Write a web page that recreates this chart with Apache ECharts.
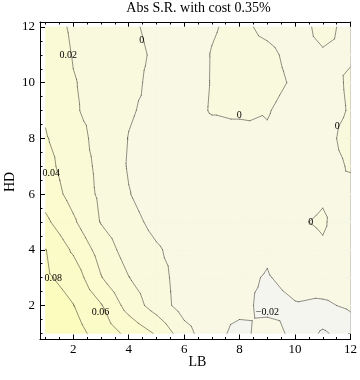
<!DOCTYPE html>
<html><head><meta charset="utf-8">
<script src="https://cdn.jsdelivr.net/npm/echarts@6/dist/echarts.min.js"></script>
<style>html,body{margin:0;padding:0;background:#fff}#c{width:360px;height:380px}</style>
</head><body><div id="c"></div>
<script>
// grid coordinates
const lbValues = [1,2,3,4,5,6,7,8,9,10,11,12];
const hdValues = [1,2,3,4,5,6,7,8,9,10,11,12];
// Abs S.R. values, one array per HD row (LB 1..12)
const srHD1  = [0.098, 0.088, 0.072, 0.055, 0.038, 0.008, -0.014, -0.025, -0.013, -0.024, -0.043, -0.030];
const srHD2  = [0.092, 0.0805, 0.0615, 0.032, 0.011, -0.009, -0.015, -0.015, -0.025, -0.021, -0.023, -0.017];
const srHD3  = [0.083, 0.072, 0.041, 0.0205, 0.008, -0.009, -0.014, -0.017, -0.021, -0.015, -0.010, -0.010];
const srHD4  = [0.0805, 0.057, 0.032, 0.011, 0.002, -0.007, -0.012, -0.013, -0.018, -0.008, -0.0022, -0.008];
const srHD5  = [0.064, 0.043, 0.019, 0.006, -0.005, -0.011, -0.012, -0.012, -0.011, -0.002, 0.002, -0.011];
const srHD6  = [0.052, 0.033, 0.0165, 0.0008, -0.010, -0.012, -0.011, -0.011, -0.010, -0.007, -0.002, -0.005];
const srHD7  = [0.046, 0.030, 0.0155, -0.0015, -0.008, -0.010, -0.009, -0.010, -0.008, -0.007, -0.006, 0.0015];
const srHD8  = [0.0412, 0.0305, 0.0114, -0.0005, -0.006, -0.008, -0.0063, -0.009, -0.0016, -0.006, -0.006, 0.006];
const srHD9  = [0.038, 0.022, 0.0135, 0.0015, -0.004, -0.007, 0.0012, 0.004, 0.0008, -0.005, -0.005, 0.001];
const srHD10 = [0.037, 0.021, 0.014, 0.006, -0.006, -0.007, 0.0006, 0.004, 0.004, -0.0017, -0.005, 0.0017];
const srHD11 = [0.034, 0.019, 0.013, 0.006, -0.003, -0.006, 0.0005, 0.004, 0.003, -0.004, -0.0015, -0.0013];
const srHD12 = [0.030, 0.017, 0.011, 0.0035, -0.005, -0.006, -0.001, 0.003, -0.003, -0.006, 0.004, -0.004];
const contourLevels = [-0.04, -0.02, 0, 0.02, 0.04, 0.06, 0.08];
const bandColors = ['#f1f1ec', '#f5f5ef', '#f8f8e5', '#f9f9de', '#fafad6', '#fbfbcf', '#fbfbc7', '#fcfcbf'];
// contour labels
const contourLabelLB   = [1.82, 4.47, 1.21, 1.28, 2.98, 9.0, 7.99, 11.52, 10.57];
const contourLabelHD   = [10.97, 11.53, 6.75, 2.98, 1.74, 1.75, 8.81, 8.42, 4.99];
const contourLabelText = ['0.02', '0', '0.04', '0.08', '0.06', '\u22120.02', '0', '0', '0'];
// ticks
const xMajorTicks = [2,4,6,8,10,12];
const xMinorTicks = [1,1.5,2.5,3,3.5,4.5,5,5.5,6.5,7,7.5,8.5,9,9.5,10.5,11,11.5];
const yMajorTicks = [2,4,6,8,10,12];
const yMinorTicks = [1,1.5,2.5,3,3.5,4.5,5,5.5,6.5,7,7.5,8.5,9,9.5,10.5,11,11.5];

const Z = [srHD1,srHD2,srHD3,srHD4,srHD5,srHD6,srHD7,srHD8,srHD9,srHD10,srHD11,srHD12];
const serif = '"Liberation Serif","DejaVu Serif",serif';

const cells = [];
for (let j = 0; j < hdValues.length - 1; j++)
  for (let i = 0; i < lbValues.length - 1; i++)
    cells.push([lbValues[i], hdValues[j], i, j]);

function cellTris(i, j) {
  const x0 = lbValues[i], x1 = lbValues[i+1], y0 = hdValues[j], y1 = hdValues[j+1];
  const z00 = Z[j][i], z10 = Z[j][i+1], z01 = Z[j+1][i], z11 = Z[j+1][i+1];
  const c = [(x0+x1)/2, (y0+y1)/2, (z00+z10+z01+z11)/4];
  const p00 = [x0,y0,z00], p10 = [x1,y0,z10], p11 = [x1,y1,z11], p01 = [x0,y1,z01];
  return [[p00,p10,c],[p10,p11,c],[p11,p01,c],[p01,p00,c]];
}
function clip(poly, lv, above) {
  const out = [];
  for (let k = 0; k < poly.length; k++) {
    const a = poly[k], b = poly[(k+1) % poly.length];
    const ina = above ? a[2] >= lv : a[2] <= lv;
    const inb = above ? b[2] >= lv : b[2] <= lv;
    if (ina) out.push(a);
    if (ina !== inb) {
      const t = (lv - a[2]) / (b[2] - a[2]);
      out.push([a[0] + t*(b[0]-a[0]), a[1] + t*(b[1]-a[1]), lv]);
    }
  }
  return out;
}

function renderFill(params, api) {
  const i = api.value(2), j = api.value(3);
  const children = [];
  cellTris(i, j).forEach(tri => {
    for (let k = 0; k <= contourLevels.length; k++) {
      let poly = tri;
      if (k > 0) poly = clip(poly, contourLevels[k-1], true);
      if (poly.length >= 3 && k < contourLevels.length) poly = clip(poly, contourLevels[k], false);
      if (poly.length >= 3) {
        children.push({
          type: 'polygon',
          shape: { points: poly.map(p => api.coord([p[0], p[1]])) },
          style: { fill: bandColors[k], stroke: bandColors[k], lineWidth: 0.7 }
        });
      }
    }
  });
  return { type: 'group', children };
}

function renderLines(params, api) {
  const i = api.value(2), j = api.value(3);
  const children = [];
  cellTris(i, j).forEach(tri => {
    contourLevels.forEach(lv => {
      const pts = [];
      for (let k = 0; k < 3; k++) {
        const a = tri[k], b = tri[(k+1) % 3];
        const sa = a[2] >= lv, sb = b[2] >= lv;
        if (sa !== sb) {
          const t = (lv - a[2]) / (b[2] - a[2]);
          pts.push(api.coord([a[0] + t*(b[0]-a[0]), a[1] + t*(b[1]-a[1])]));
        }
      }
      if (pts.length === 2) {
        children.push({
          type: 'line',
          shape: { x1: pts[0][0], y1: pts[0][1], x2: pts[1][0], y2: pts[1][1] },
          style: { stroke: 'rgba(0,0,0,0.42)', lineWidth: 1, lineCap: 'round' }
        });
      }
    });
  });
  return { type: 'group', children };
}

const labelData = contourLabelText.map((t, k) => [contourLabelLB[k], contourLabelHD[k], k]);
function renderLabel(params, api) {
  const p = api.coord([api.value(0), api.value(1)]);
  return {
    type: 'text', x: p[0], y: p[1],
    style: { text: contourLabelText[api.value(2)], fill: '#000', font: '10px ' + serif,
             align: 'center', verticalAlign: 'middle', textAlign: 'center', textVerticalAlign: 'middle' }
  };
}

function xAx(pos, ticks, len, labels, line) {
  return {
    type: 'value', min: 0.8, max: 12, position: pos,
    splitLine: { show: false },
    axisLine: { show: line, onZero: false, lineStyle: { color: '#000', width: 1 } },
    axisTick: { show: true, inside: true, length: len, customValues: ticks, lineStyle: { color: '#000', width: 1 } },
    axisLabel: { show: labels, customValues: ticks, margin: 4, color: '#000', fontFamily: serif, fontSize: 13 }
  };
}
function yAx(pos, ticks, len, labels, line) {
  return {
    type: 'value', min: 0.78, max: 12.18, position: pos,
    splitLine: { show: false },
    axisLine: { show: line, onZero: false, lineStyle: { color: '#000', width: 1 } },
    axisTick: { show: true, inside: true, length: len, customValues: ticks, lineStyle: { color: '#000', width: 1 } },
    axisLabel: { show: labels, customValues: ticks, margin: 5, color: '#000', fontFamily: serif, fontSize: 13 }
  };
}

const chart = echarts.init(document.getElementById('c'));
chart.setOption({
  animation: false,
  backgroundColor: '#fff',
  grid: { left: 40, right: 8, top: 22, bottom: 40.5, containLabel: false },
  xAxis: [
    xAx('bottom', xMajorTicks, 5, true, true),
    xAx('bottom', xMinorTicks, 2.5, false, false),
    xAx('top', xMajorTicks, 5, false, true),
    xAx('top', xMinorTicks, 2.5, false, false)
  ],
  yAxis: [
    yAx('left', yMajorTicks, 5, true, true),
    yAx('left', yMinorTicks, 2.5, false, false),
    yAx('right', yMajorTicks, 5, false, true),
    yAx('right', yMinorTicks, 2.5, false, false)
  ],
  graphic: [
    { type: 'text', x: 198.5, y: 8, style: { text: 'Abs S.R. with cost 0.35%', fill: '#000', font: '14px ' + serif, textAlign: 'center', textVerticalAlign: 'middle' } },
    { type: 'text', x: 197.5, y: 362, style: { text: 'LB', fill: '#000', font: '14px ' + serif, textAlign: 'center', textVerticalAlign: 'middle' } },
    { type: 'text', x: 10, y: 182, rotation: Math.PI / 2, style: { text: 'HD', fill: '#000', font: '14px ' + serif, textAlign: 'center', textVerticalAlign: 'middle' } }
  ],
  series: [
    { type: 'custom', renderItem: renderFill, data: cells, xAxisIndex: 0, yAxisIndex: 0, z: 1, silent: true },
    { type: 'custom', renderItem: renderLines, data: cells, xAxisIndex: 0, yAxisIndex: 0, z: 2, silent: true },
    { type: 'custom', renderItem: renderLabel, data: labelData, xAxisIndex: 0, yAxisIndex: 0, z: 3, silent: true }
  ]
});
</script>
</body></html>
